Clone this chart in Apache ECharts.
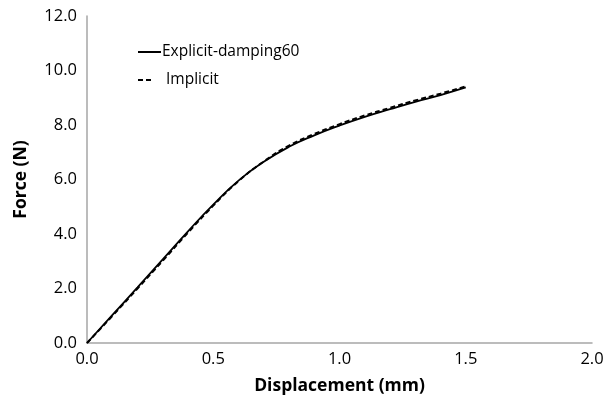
<!DOCTYPE html>
<html><head><meta charset="utf-8">
<script src="https://cdn.jsdelivr.net/npm/echarts@6/dist/echarts.min.js"></script>
<style>html,body{margin:0;padding:0;background:#fff}#c{width:614px;height:403px}</style>
</head><body><div id="c"></div>
<script>
var displacement = [0, 0.1, 0.2, 0.3, 0.4, 0.5, 0.6, 0.7, 0.8, 0.9, 1.0, 1.1, 1.2, 1.3, 1.4, 1.5];
var explicitForce = [0, 1.02, 2.04, 3.07, 4.1, 5.08, 5.96, 6.65, 7.2, 7.62, 7.98, 8.3, 8.58, 8.85, 9.1, 9.38];
var implicitForce = [0, 0.99, 2.0, 3.02, 4.05, 5.04, 5.94, 6.66, 7.24, 7.67, 8.03, 8.35, 8.63, 8.9, 9.15, 9.42];
var xTicks = [0, 0.5, 1.0, 1.5, 2.0];
var yTicks = [0, 2, 4, 6, 8, 10, 12];

function pairs(xs, ys){ return xs.map(function(x,i){ return [x, ys[i]]; }); }
var font = "'Open Sans', 'Liberation Sans', sans-serif";
var hidden = 'rgba(0,0,0,0)';
var chart = echarts.init(document.getElementById('c'), null, {renderer:'canvas'});
chart.setOption({
  animation:false,
  backgroundColor:'#fff',
  textStyle:{fontFamily:font},
  grid:{left:87, right:22, top:16, bottom:60},
  legend:{
    orient:'vertical', left:127, top:39, itemGap:12, itemWidth:1, itemHeight:12,
    icon:'rect',
    itemStyle:{color:hidden, borderWidth:0},
    lineStyle:{color:hidden, width:0},
    formatter:function(name){
      if (name === 'Implicit') return '{d| }{g| }{d| }{s| }{t|' + name + '}';
      return '{l| }{t|' + name + '}';
    },
    textStyle:{fontFamily:font, fontSize:15.5, color:'#000',
      rich:{
        l:{width:23, height:2, backgroundColor:'#000', verticalAlign:'middle'},
        d:{width:5, height:2, backgroundColor:'#000', verticalAlign:'middle'},
        g:{width:3, height:2, verticalAlign:'middle'},
        s:{width:14, height:2, verticalAlign:'middle'},
        t:{fontFamily:font, fontSize:15.5, color:'#000', padding:[0,0,0,1]}
      }
    },
    data:['Explicit-damping60', 'Implicit']
  },
  xAxis:{
    type:'value', min:0, max:2, interval:0.5,
    name:'Displacement (mm)', nameLocation:'middle', nameGap:34,
    nameTextStyle:{fontFamily:font, fontSize:17.5, fontWeight:'bold', color:'#000'},
    axisLine:{show:true, lineStyle:{color:'#a6a6a6', width:1.5}},
    axisTick:{show:false}, splitLine:{show:false},
    axisLabel:{fontFamily:font, fontSize:16.5, color:'#000', margin:8,
      formatter:function(v){ return v.toFixed(1); }}
  },
  yAxis:{
    type:'value', min:0, max:12, interval:2,
    name:'Force (N)', nameLocation:'middle', nameGap:57, nameRotate:90,
    nameTextStyle:{fontFamily:font, fontSize:17.5, fontWeight:'bold', color:'#000'},
    axisLine:{show:true, lineStyle:{color:'#a6a6a6', width:1.5}},
    axisTick:{show:false}, splitLine:{show:false},
    axisLabel:{fontFamily:font, fontSize:16.5, color:'#000', margin:10,
      formatter:function(v){ return v.toFixed(1); }}
  },
  series:[
    {name:'Explicit-damping60', type:'line', smooth:true, showSymbol:false,
     data:pairs(displacement, explicitForce), color:'#000',
     lineStyle:{color:'#000', width:1.8}},
    {name:'Implicit', type:'line', smooth:true, showSymbol:false,
     data:pairs(displacement, implicitForce), color:'#000',
     lineStyle:{color:'#000', width:2, type:[5,3]}}
  ]
});
</script></body></html>
